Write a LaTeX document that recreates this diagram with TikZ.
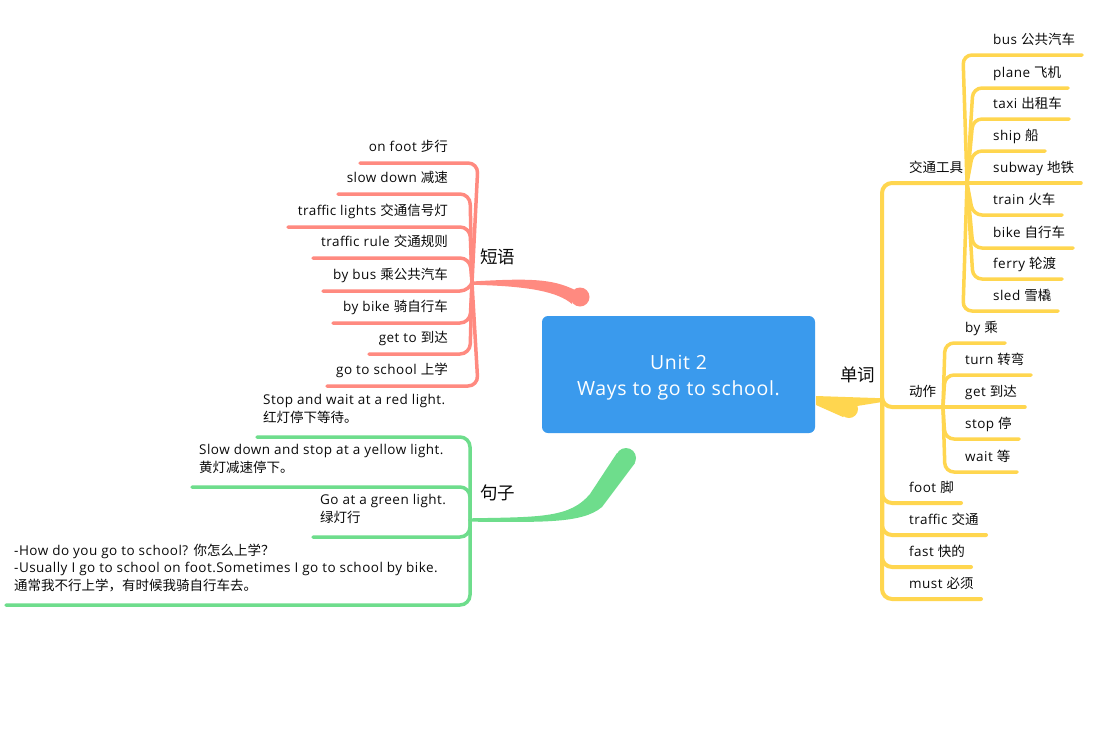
\documentclass[tikz,border=0pt]{standalone}
\usepackage{fontspec}
\setmainfont{Open Sans}[LetterSpace=3.5]
\newfontfamily\zh{Noto Sans CJK SC}
\definecolor{cblue}{RGB}{58,154,237}
\definecolor{cred}{RGB}{255,138,128}
\definecolor{cgreen}{RGB}{110,221,140}
\definecolor{cyel}{RGB}{255,214,79}
\definecolor{ctext}{RGB}{10,10,10}
\tikzset{
  lbl/.style={font=\fontsize{13.5}{17.5}\selectfont, inner sep=0pt, text=ctext},
  llbl/.style={lbl, anchor=base east},
  rlbl/.style={lbl, anchor=base west},
  blk/.style={lbl, anchor=base west, align=left},
  big/.style={font=\fontsize{17.5}{20}\selectfont\zh, inner sep=0pt, text=ctext, anchor=base west},
  rline/.style={draw=cred, line width=3.5pt, rounded corners=10pt, line cap=round},
  gline/.style={draw=cgreen, line width=3.5pt, rounded corners=10pt, line cap=round},
  yline/.style={draw=cyel, line width=4pt, rounded corners=10pt, line cap=round},
  yline3/.style={draw=cyel, line width=3.5pt, rounded corners=9pt, line cap=round},
}
\begin{document}
\begin{tikzpicture}[x=1pt,y=-1pt]
\useasboundingbox (0,0) rectangle (1096,737);
\fill[white] (0,0) rectangle (1096,737);

% ---------- hubs ----------
\coordinate (hr) at (472,283);
\coordinate (hg) at (470,520);
\coordinate (hy) at (882,400);
\coordinate (hyt) at (967,183);
\coordinate (hya) at (943,407);

% ---------- main branches ----------
\fill[cred] (580,297) circle (9.5);
\fill[cred] (472,281.5) .. controls (530,278) and (552,279) .. (574,289.5)
  -- (572,304) .. controls (558,292) and (530,286) .. (472,284.8) -- cycle;
\fill[cgreen] (626,458) circle (10);
\fill[cgreen] (470,518.3) .. controls (540,517) and (570,518) .. (590,494)
  -- (617,453) -- (635,463) -- (602,507) .. controls (582,524) and (540,522) .. (470,521.7) -- cycle;
\fill[cyel] (849,409) circle (9);
\fill[cyel] (884,398.3) -- (816,396) -- (816,405) -- (843,417) -- (857,406) -- (884,401.7) -- cycle;

% ---------- central node ----------
\node[fill=cblue, rounded corners=6pt, minimum width=273pt, minimum height=117pt, inner sep=0pt] (root) at (678.5,374.5) {};
\node[text=white, align=center, inner sep=0pt, font=\fontsize{19.5}{26}\selectfont] (roottxt) at ([yshift=-3pt]root.center)
  {Unit 2\\Ways to go to school.};

% ---------- red: 短语 ----------
\node[big] (dy) at (480,263) {短语};
\coordinate (r1) at (360,163); \coordinate (r2) at (338,194); \coordinate (r3) at (288,227);
\coordinate (r4) at (313,258); \coordinate (r5) at (323,291); \coordinate (r6) at (333,323);
\coordinate (r7) at (369,354); \coordinate (r8) at (327,386);
\draw[rline] (hr) -- (478,163) -- (r1);
\draw[rline] (hr) -- (470,194) -- (r2);
\draw[rline] (hr) -- (470,227) -- (r3);
\draw[rline] (hr) -- (470,258) -- (r4);
\draw[rline] (hr) -- (470,291) -- (r5);
\draw[rline] (hr) -- (470,323) -- (r6);
\draw[rline] (hr) -- (470,354) -- (r7);
\draw[rline] (hr) -- (478,386) -- (r8);
\node[llbl] (p1) at (448,151) {on foot {\zh 步行}};
\node[llbl] (p2) at (448,182) {slow down {\zh 减速}};
\node[llbl] (p3) at (448,215) {traffic lights {\zh 交通信号灯}};
\node[llbl] (p4) at (448,246) {traffic rule {\zh 交通规则}};
\node[llbl] (p5) at (448,279) {by bus {\zh 乘公共汽车}};
\node[llbl] (p6) at (448,311) {by bike {\zh 骑自行车}};
\node[llbl] (p7) at (448,342) {get to {\zh 到达}};
\node[llbl] (p8) at (448,374) {go to school {\zh 上学}};

% ---------- green: 句子 ----------
\node[big] (jz) at (480,499) {句子};
\coordinate (g1) at (257,437); \coordinate (g2) at (192,487);
\coordinate (g3) at (313,537); \coordinate (g4) at (6,605);
\draw[gline] (hg) -- (470,437) -- (g1);
\draw[gline] (hg) -- (470,487) -- (g2);
\draw[gline] (hg) -- (470,537) -- (g3);
\draw[gline] (hg) -- (470,605) -- (g4);
\node[blk] (s1) at (263,422) {Stop and wait at a red light.\\{\zh 红灯停下等待。}};
\node[blk] (s2) at (199,472) {Slow down and stop at a yellow light.\\{\zh 黄灯减速停下。}};
\node[blk] (s3) at (320,522) {Go at a green light.\\{\zh 绿灯行}};
\node[blk] (s4) at (14,590) {-How do you go to school? {\zh 你怎么上学？}\\-Usually I go to school on foot.Sometimes I go to school by bike.\\{\zh 通常我不行上学，有时候我骑自行车去。}};

% ---------- yellow: 单词 ----------
\node[big] (dc) at (840,381) {单词};
\draw[yline] (hy) -- (882,183) -- (hyt);
\draw[yline] (hy) -- (882,407) -- (hya);
\coordinate (y1) at (961,503); \coordinate (y2) at (986,535);
\coordinate (y3) at (971,567); \coordinate (y4) at (981,599);
\draw[yline] (hy) -- (882,503) -- (y1);
\draw[yline] (hy) -- (882,535) -- (y2);
\draw[yline] (hy) -- (882,567) -- (y3);
\draw[yline] (hy) -- (882,599) -- (y4);
\node[rlbl] (jtgj) at (909,172) {\zh 交通工具};
\node[rlbl] (dz) at (909,396) {\zh 动作};
\node[rlbl] (w1) at (909,492) {foot {\zh 脚}};
\node[rlbl] (w2) at (909,524) {traffic {\zh 交通}};
\node[rlbl] (w3) at (909,556) {fast {\zh 快的}};
\node[rlbl] (w4) at (909,588) {must {\zh 必须}};

% transport
\coordinate (t1) at (1082,55); \coordinate (t2) at (1068,88); \coordinate (t3) at (1069,119);
\coordinate (t4) at (1045,151); \coordinate (t5) at (1081,183); \coordinate (t6) at (1062,215);
\coordinate (t7) at (1073,248); \coordinate (t8) at (1062,279); \coordinate (t9) at (1058,311);
\draw[yline3] (hyt) -- (963,55) -- (t1);
\draw[yline3] (hyt) -- (973,88) -- (t2);
\draw[yline3] (hyt) -- (973,119) -- (t3);
\draw[yline3] (hyt) -- (973,151) -- (t4);
\draw[yline3] (hyt) -- (t5);
\draw[yline3] (hyt) -- (973,215) -- (t6);
\draw[yline3] (hyt) -- (973,248) -- (t7);
\draw[yline3] (hyt) -- (973,279) -- (t8);
\draw[yline3] (hyt) -- (963,311) -- (t9);
\node[rlbl] (v1) at (993,44) {bus {\zh 公共汽车}};
\node[rlbl] (v2) at (993,77) {plane {\zh 飞机}};
\node[rlbl] (v3) at (993,108) {taxi {\zh 出租车}};
\node[rlbl] (v4) at (993,140) {ship {\zh 船}};
\node[rlbl] (v5) at (993,172) {subway {\zh 地铁}};
\node[rlbl] (v6) at (993,204) {train {\zh 火车}};
\node[rlbl] (v7) at (993,237) {bike {\zh 自行车}};
\node[rlbl] (v8) at (993,268) {ferry {\zh 轮渡}};
\node[rlbl] (v9) at (993,300) {sled {\zh 雪橇}};

% actions
\coordinate (a1) at (1005,343); \coordinate (a2) at (1031,375); \coordinate (a3) at (1025,407);
\coordinate (a4) at (1019,439); \coordinate (a5) at (1017,472);
\draw[yline3] (hya) -- (945,343) -- (a1);
\draw[yline3] (hya) -- (945,375) -- (a2);
\draw[yline3] (hya) -- (a3);
\draw[yline3] (hya) -- (945,439) -- (a4);
\draw[yline3] (hya) -- (945,472) -- (a5);
\node[rlbl] (b1) at (965,332) {by {\zh 乘}};
\node[rlbl] (b2) at (965,364) {turn {\zh 转弯}};
\node[rlbl] (b3) at (965,396) {get {\zh 到达}};
\node[rlbl] (b4) at (965,428) {stop {\zh 停}};
\node[rlbl] (b5) at (965,461) {wait {\zh 等}};
\end{tikzpicture}
\end{document}
